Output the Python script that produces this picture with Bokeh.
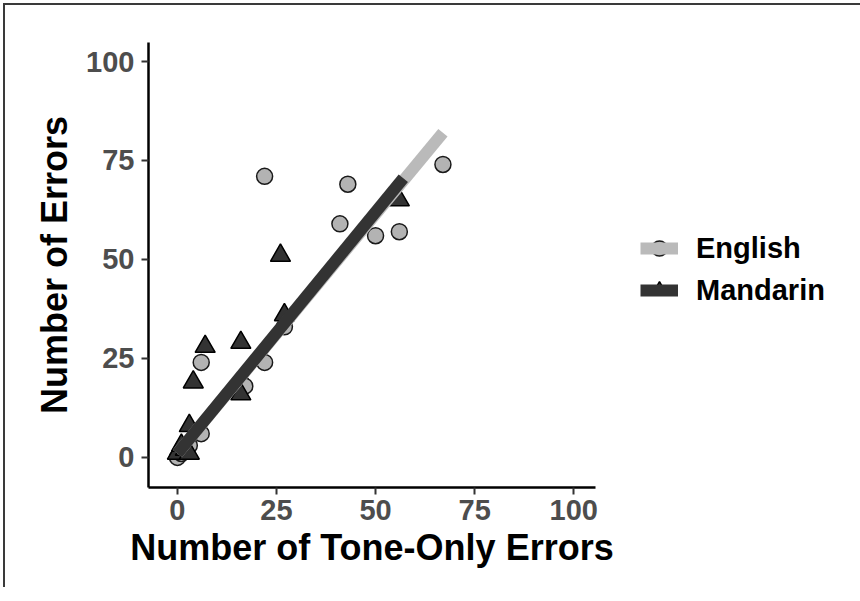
from bokeh.plotting import figure
from bokeh.models import Range1d, Legend, LegendItem, FixedTicker
from bokeh.embed import file_html
from bokeh.resources import INLINE

# ---- data ----
english_x = [0, 1, 2, 3, 6, 6, 16, 17, 22, 22, 27, 41, 43, 50, 56, 67]
english_y = [0, 1, 2, 3, 6, 24, 19, 18, 24, 71, 33, 59, 69, 56, 57, 74]
mandarin_x = [0, 1, 2, 3, 3, 4, 7, 14, 16, 16, 26, 27, 56]
mandarin_y = [1, 3, 2, 1, 8, 19, 28, 17, 16, 29, 51, 36, 65]
english_fit_x = [0, 67]
english_fit_y = [1, 82]
mandarin_fit_x = [0, 57]
mandarin_fit_y = [1, 70.5]
ticks = [0, 25, 50, 75, 100]
series_names = ["English", "Mandarin"]

FONT = "Liberation Sans"

p = figure(frame_width=447, frame_height=445,
           x_range=Range1d(-7.3, 105.5), y_range=Range1d(-7.6, 104.8),
           output_backend="svg", toolbar_location=None,
           min_border_left=143, min_border_top=37, min_border_bottom=100,
           min_border_right=0)
p.styles = {"margin": "3px 0px 0px 3px",
            "border-top": "2px solid #3a3a3a",
            "border-left": "2px solid #3a3a3a",
            "border-right": "0px none",
            "border-bottom": "0px none"}
p.background_fill_color = "white"
p.border_fill_color = "white"
p.outline_line_color = None
p.grid.visible = False

for ax in (p.xaxis[0], p.yaxis[0]):
    ax.ticker = FixedTicker(ticks=ticks)
    ax.axis_line_color = "black"
    ax.axis_line_width = 2.5
    ax.major_tick_line_color = "#333333"
    ax.major_tick_line_width = 2
    ax.major_tick_out = 7
    ax.major_tick_in = 0
    ax.minor_tick_line_color = None
    ax.major_label_text_font = FONT
    ax.major_label_text_font_style = "bold"
    ax.major_label_text_font_size = "29px"
    ax.major_label_text_color = "#4d4d4d"
    ax.axis_label_text_font = FONT
    ax.axis_label_text_font_style = "bold"
    ax.axis_label_text_font_size = "36px"
    ax.axis_label_text_color = "black"

p.xaxis.axis_label = "Number of Tone-Only Errors"
p.yaxis.axis_label = "Number of Errors"
p.xaxis.major_label_standoff = 5
p.yaxis.major_label_standoff = 7
p.xaxis.axis_label_standoff = 4
p.yaxis.axis_label_standoff = 8

eng_pts = p.scatter(english_x, english_y, marker="circle", size=16,
                    fill_color="#b3b3b3", line_color="#1a1a1a", line_width=1.5)
man_pts = p.scatter(mandarin_x, mandarin_y, marker="triangle", size=20,
                    fill_color="#333333", line_color="black", line_width=1.5)
eng_line = p.line(english_fit_x, english_fit_y, line_color="#bababa",
                  line_width=12, line_cap="butt")
man_line = p.line(mandarin_fit_x, mandarin_fit_y, line_color="#333333",
                  line_width=12, line_cap="butt")

legend = Legend(items=[
    LegendItem(label=series_names[0], renderers=[eng_pts, eng_line]),
    LegendItem(label=series_names[1], renderers=[man_pts, man_line]),
], location=(45, 177))
legend.label_text_font = FONT
legend.label_text_font_style = "bold"
legend.label_text_font_size = "29px"
legend.label_text_color = "black"
legend.glyph_width = 38
legend.glyph_height = 40
legend.spacing = 2
legend.label_standoff = 18
legend.margin = 0
legend.padding = 0
legend.border_line_color = None
legend.background_fill_alpha = 0
p.add_layout(legend, "right")

open("out.html", "w").write(file_html(p, INLINE))
